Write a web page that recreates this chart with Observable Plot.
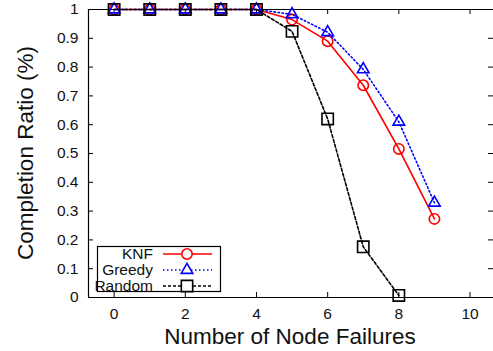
<!DOCTYPE html>
<html>
<head>
<meta charset="utf-8">
<script src="https://cdn.jsdelivr.net/npm/d3@7"></script>
<script src="https://cdn.jsdelivr.net/npm/@observablehq/plot@0.6"></script>
<style>
  html, body { margin: 0; padding: 0; background: #fff; overflow: hidden; }
  #chart { position: relative; width: 493px; height: 351px; }
</style>
</head>
<body>
<div id="chart"></div>
<script>
// ---- data ----
const failures = [0, 1, 2, 3, 4, 5, 6, 7, 8, 9];
const knfValues = [1, 1, 1, 1, 1, 0.965, 0.89, 0.737, 0.516, 0.273];
const greedyValues = [1, 1, 1, 1, 1, 0.983, 0.921, 0.792, 0.61, 0.329];
const randomFailures = [0, 1, 2, 3, 4, 5, 6, 7, 8];
const randomValues = [1, 1, 1, 1, 1, 0.924, 0.62, 0.176, 0.007];
const seriesNames = ["KNF", "Greedy", "Random"];
const xTicks = [0, 2, 4, 6, 8, 10];
const yTicks = [0, 0.1, 0.2, 0.3, 0.4, 0.5, 0.6, 0.7, 0.8, 0.9, 1];
const yTickLabels = ["0", "0.1", "0.2", "0.3", "0.4", "0.5", "0.6", "0.7", "0.8", "0.9", "1"];
const xLabel = "Number of Node Failures";
const yLabel = "Completion Ratio (%)";

const knf = failures.map((x, i) => ({x, y: knfValues[i]}));
const greedy = failures.map((x, i) => ({x, y: greedyValues[i]}));
const random = randomFailures.map((x, i) => ({x, y: randomValues[i]}));

const styles = {
  KNF: {stroke: "#ff0000", dash: null, symbol: "circle", r: 5.2},
  Greedy: {stroke: "#0000ff", dash: "1.5,2.5", symbol: "triangle", r: 4.3},
  Random: {stroke: "#000000", dash: "3,2", symbol: "square", r: 6.4}
};

const W = 493, H = 351;
const mL = 88, mR = 0, mT = 9, mB = 54;
const xDomain = [-0.72, 10.66];
const fw = W - mL - mR, fh = H - mT - mB;
const font = "'Liberation Sans', Arial, Helvetica, sans-serif";

const seriesMarks = (data, name) => {
  const s = styles[name];
  return [
    Plot.line(data, {x: "x", y: "y", stroke: s.stroke, strokeWidth: 1.6, strokeDasharray: s.dash}),
    Plot.dot(data, {x: "x", y: "y", stroke: s.stroke, fill: "none", strokeWidth: 1.6, symbol: s.symbol, r: s.r})
  ];
};

const svg = Plot.plot({
  width: W, height: H,
  marginLeft: mL, marginRight: mR, marginTop: mT, marginBottom: mB,
  style: {fontFamily: font, background: "#fff", overflow: "visible"},
  x: {domain: xDomain},
  y: {domain: [0, 1]},
  marks: [
    // frame (left, top, bottom)
    Plot.ruleX([xDomain[0]], {stroke: "#000", strokeWidth: 1.2}),
    Plot.ruleY([0, 1], {stroke: "#000", strokeWidth: 1.2}),
    // inward ticks
    Plot.ruleX(xTicks, {x: d => d, insetTop: fh - 5, stroke: "#000"}),
    Plot.ruleX(xTicks, {x: d => d, insetBottom: fh - 5, stroke: "#000"}),
    Plot.ruleY(yTicks, {y: d => d, insetRight: fw - 5, stroke: "#000"}),
    Plot.ruleY(yTicks, {y: d => d, insetLeft: fw - 5, stroke: "#000"}),
    // tick labels
    Plot.axisX(xTicks, {tickSize: 0, tickPadding: 10, fontSize: 15.5, label: null, fill: "#111"}),
    Plot.axisY(yTicks, {tickSize: 0, tickPadding: 10, fontSize: 15.5, label: null, fill: "#111",
      tickFormat: d => yTickLabels[yTicks.indexOf(d)]}),
    // series
    ...seriesMarks(knf, "KNF"),
    ...seriesMarks(greedy, "Greedy"),
    ...seriesMarks(random, "Random")
  ]
});

const g0 = d3.select(svg).append("g").attr("font-family", font).attr("fill", "#111");
// axis titles
g0.append("text").attr("x", mL + fw / 2 - 0.5).attr("y", 336).attr("dy", "0.35em")
  .attr("text-anchor", "middle").attr("font-size", 22.5).text(xLabel);
g0.append("text").attr("transform", `translate(25,${mT + fh / 2}) rotate(-90)`).attr("dy", "0.35em")
  .attr("text-anchor", "middle").attr("font-size", 22.5).text(yLabel);

// ---- legend (key box) ----
const g = d3.select(svg).append("g").attr("font-family", font);
const box = {x: 97.5, y: 246.5, w: 123, h: 45};
g.append("rect").attr("x", box.x).attr("y", box.y).attr("width", box.w).attr("height", box.h)
  .attr("fill", "#fff").attr("stroke", "#000").attr("stroke-width", 1.2);
const symbolTypes = {circle: d3.symbolCircle, triangle: d3.symbolTriangle, square: d3.symbolSquare};
seriesNames.forEach((name, i) => {
  const s = styles[name];
  const cy = 254 + i * 16;
  g.append("text").attr("x", 153).attr("y", cy).attr("dy", "0.35em")
    .attr("text-anchor", "end").attr("font-size", 15.5).attr("fill", "#111").text(name);
  g.append("line").attr("x1", 163).attr("x2", 212).attr("y1", cy).attr("y2", cy)
    .attr("stroke", s.stroke).attr("stroke-width", 1.6)
    .attr("stroke-dasharray", s.dash);
  g.append("path")
    .attr("d", d3.symbol(symbolTypes[s.symbol], Math.PI * s.r * s.r)())
    .attr("transform", `translate(187,${cy})`)
    .attr("fill", "#fff").attr("stroke", s.stroke).attr("stroke-width", 1.6);
});

document.getElementById("chart").appendChild(svg);
</script>
</body>
</html>
